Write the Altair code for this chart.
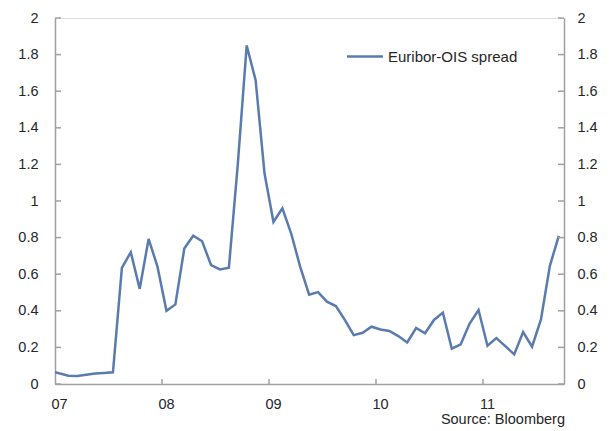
import altair as alt
import pandas as pd

# ---- data (monthly, Jan 2007 - Sep 2011) ----
start_year = 2007
spread = [
    0.065, 0.045, 0.044, 0.050, 0.057, 0.060, 0.064, 0.635, 0.720, 0.520, 0.793, 0.640,   # 2007
    0.400, 0.435, 0.740, 0.810, 0.780, 0.650, 0.626, 0.635, 1.200, 1.850, 1.660, 1.150,   # 2008
    0.886, 0.960, 0.820, 0.640, 0.488, 0.502, 0.450, 0.426, 0.350, 0.267, 0.280, 0.313,   # 2009
    0.298, 0.290, 0.262, 0.227, 0.306, 0.277, 0.350, 0.390, 0.193, 0.217, 0.330, 0.404,   # 2010
    0.209, 0.251, 0.207, 0.162, 0.284, 0.204, 0.353, 0.646, 0.810,                        # 2011
]
y_ticks = [0, 0.2, 0.4, 0.6, 0.8, 1.0, 1.2, 1.4, 1.6, 1.8, 2.0]
x_ticks = [2007, 2008, 2009, 2010, 2011]
inner_x_ticks = [2008, 2009, 2010, 2011]
series_name = "Euribor-OIS spread"
source_text = "Source: Bloomberg"

pos = [start_year + (i + 0.5) / 12 for i in range(len(spread))]
pos[0] = start_year
df = pd.DataFrame({"t": pos, "v": spread})
ytk = pd.DataFrame({"v": y_ticks})
xtk = pd.DataFrame({"t": inner_x_ticks})

W, H = 509, 366
FONT = "Liberation Sans"
LINE = "#5A7BAD"
AX = "#A0A0A0"
TXT = "#262626"
FS = 14.5

x_scale = alt.Scale(domain=[2007, 2011.757], nice=False, zero=False)
y_scale = alt.Scale(domain=[0, 2], nice=False)

x_axis = alt.Axis(values=x_ticks, labelExpr="slice(toString(datum.value), 2)", title=None,
                  grid=False, ticks=False, tickSize=0, domainColor=AX, domainWidth=1.5,
                  labelPadding=13, labelFontSize=FS, labelColor=TXT, labelFont=FONT,
                  labelOffset=4, labelFlush=False)
y_axis_l = alt.Axis(orient="left", values=y_ticks, format="~g", title=None, grid=False,
                    ticks=False, tickSize=0, domainColor=AX, domainWidth=1.5,
                    labelPadding=17, labelFontSize=FS, labelColor=TXT, labelFont=FONT,
                    labelFlush=False)
y_axis_r = alt.Axis(orient="right", values=y_ticks, format="~g", title=None, grid=False,
                    ticks=False, tickSize=0, domainColor=AX, domainWidth=1.5,
                    labelPadding=13, labelFontSize=FS, labelColor=TXT, labelFont=FONT,
                    labelFlush=False)

line = alt.Chart(df).mark_line(strokeWidth=2.5, color=LINE, clip=True).encode(
    x=alt.X("t:Q", scale=x_scale, axis=x_axis),
    y=alt.Y("v:Q", scale=y_scale, axis=y_axis_l),
)

lticks = alt.Chart(ytk).mark_rule(color=AX, strokeWidth=1.5).encode(
    y=alt.Y("v:Q", scale=y_scale, axis=None),
    x=alt.value(0), x2=alt.value(6),
)
rticks = alt.Chart(ytk).mark_rule(color=AX, strokeWidth=1.5).encode(
    y=alt.Y("v:Q", scale=y_scale, axis=y_axis_r),
    x=alt.value(W - 6), x2=alt.value(W),
)
xticks = alt.Chart(xtk).mark_rule(color=AX, strokeWidth=1.5).encode(
    x=alt.X("t:Q", scale=x_scale, axis=x_axis),
    y=alt.value(H - 5), y2=alt.value(H),
)

leg_df = pd.DataFrame({"label": [series_name]})
leg_line = alt.Chart(leg_df).mark_rule(color=LINE, strokeWidth=2.5).encode(
    x=alt.value(292), x2=alt.value(328), y=alt.value(38.5),
)
leg_text = alt.Chart(leg_df).mark_text(align="left", baseline="middle", font=FONT,
                                       fontSize=15, color=TXT).encode(
    x=alt.value(333), y=alt.value(38.5), text="label:N",
)

src_df = pd.DataFrame({"label": [source_text]})
src = alt.Chart(src_df).mark_text(align="right", baseline="alphabetic", font=FONT,
                                  fontSize=FS, color=TXT).encode(
    x=alt.value(W + 1), y=alt.value(405.5), text="label:N",
)

chart = alt.layer(line, lticks, rticks, xticks, leg_line, leg_text, src).resolve_axis(
    y="independent"
).properties(
    width=W, height=H,
    autosize=alt.AutoSizeParams(type="none"),
    padding={"left": 47, "top": 10, "right": 42, "bottom": 45},
).configure_view(stroke=None).configure(background="white")

chart.save("out.html", embed_options={"renderer": "svg", "actions": False})
